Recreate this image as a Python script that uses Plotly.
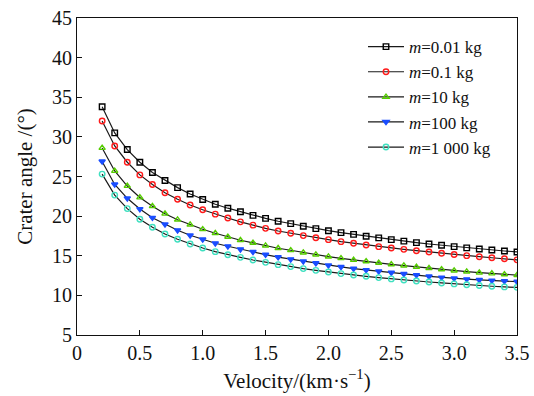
import plotly.graph_objects as go

velocity = [round(0.2 + 0.1 * i, 1) for i in range(34)]

m001 = [33.8, 30.5, 28.4, 26.8, 25.5, 24.5, 23.6, 22.8, 22.1, 21.5, 21.0, 20.55, 20.1,
        19.72, 19.35, 19.05, 18.72, 18.42, 18.16, 17.92, 17.7, 17.46, 17.25, 17.04,
        16.84, 16.66, 16.48, 16.32, 16.15, 16.0, 15.86, 15.73, 15.6, 15.48]
m01 = [32.0, 28.85, 26.8, 25.2, 24.0, 22.95, 22.12, 21.4, 20.8, 20.25, 19.76, 19.28, 18.86,
       18.46, 18.12, 17.83, 17.54, 17.28, 17.03, 16.78, 16.57, 16.36, 16.15, 15.98,
       15.81, 15.64, 15.47, 15.31, 15.15, 15.01, 14.88, 14.75, 14.62, 14.48]
m10 = [28.6, 25.7, 23.8, 22.35, 21.25, 20.3, 19.55, 18.92, 18.34, 17.84, 17.38, 16.96, 16.62,
       16.27, 15.95, 15.69, 15.4, 15.14, 14.89, 14.68, 14.47, 14.3, 14.1, 13.92,
       13.75, 13.58, 13.42, 13.28, 13.12, 12.99, 12.86, 12.76, 12.65, 12.56]
m100 = [26.9, 24.0, 22.25, 20.9, 19.8, 18.97, 18.22, 17.58, 17.07, 16.58, 16.2, 15.82, 15.49,
        15.14, 14.82, 14.56, 14.3, 14.06, 13.8, 13.59, 13.38, 13.2, 13.04, 12.87,
        12.71, 12.55, 12.4, 12.26, 12.14, 12.04, 11.95, 11.87, 11.8, 11.73]
m1000 = [25.3, 22.65, 20.95, 19.6, 18.6, 17.75, 17.08, 16.48, 15.98, 15.52, 15.13, 14.8, 14.46,
         14.17, 13.88, 13.63, 13.38, 13.16, 12.95, 12.75, 12.57, 12.41, 12.24, 12.08,
         11.94, 11.81, 11.69, 11.57, 11.45, 11.35, 11.24, 11.15, 11.07, 11.01]

names = ["<i>m</i>=0.01 kg", "<i>m</i>=0.1 kg", "<i>m</i>=10 kg", "<i>m</i>=100 kg", "<i>m</i>=1 000 kg"]
series = [m001, m01, m10, m100, m1000]
symbols = ["square-open", "circle-open", "triangle-up-open", "triangle-down", "circle-open"]
colors = ["#000000", "#ff1a1a", "#55cc00", "#1a4dff", "#3fe0c0"]

x_tickvals = [0, 0.5, 1.0, 1.5, 2.0, 2.5, 3.0, 3.5]
x_ticktext = ["0", "0.5", "1.0", "1.5", "2.0", "2.5", "3.0", "3.5"]
y_tickvals = [5, 10, 15, 20, 25, 30, 35, 40, 45]

fig = go.Figure()
for nm, ys, sym, col in zip(names, series, symbols, colors):
    fig.add_trace(go.Scatter(
        x=velocity, y=ys, name=nm, mode="lines+markers",
        line=dict(color="#1a1a1a", width=1.2),
        marker=dict(symbol=sym, size=5.5, color=col, line=dict(color=col, width=1.4)),
    ))

font_family = "Liberation Serif"
fig.update_layout(
    width=534, height=396,
    margin=dict(l=77, r=17, t=18, b=61, autoexpand=False),
    paper_bgcolor="white", plot_bgcolor="white",
    font=dict(family=font_family, size=20, color="#111111"),
    showlegend=True,
    legend=dict(x=0.65, y=0.965, xanchor="left", yanchor="top",
                bgcolor="rgba(0,0,0,0)", font=dict(size=17, family=font_family),
                tracegroupgap=0, itemwidth=36),
    xaxis=dict(range=[0, 3.5], tickvals=x_tickvals, ticktext=x_ticktext,
               ticks="inside", ticklen=5, tickwidth=1, tickcolor="#111",
               tickfont=dict(size=20), automargin=False,
               showline=True, linecolor="#111", linewidth=1.2, mirror=True,
               showgrid=False, zeroline=False,
               title=dict(text="Velocity/(km·s<sup>−1</sup>)", font=dict(size=21), standoff=10)),
    yaxis=dict(range=[5, 45], tickvals=y_tickvals,
               ticks="inside", ticklen=5, tickwidth=1, tickcolor="#111",
               tickfont=dict(size=20), automargin=False,
               showline=True, linecolor="#111", linewidth=1.2, mirror=True,
               showgrid=False, zeroline=False,
               title=dict(text="Crater angle /(°)", font=dict(size=21), standoff=13)),
)

fig.write_html("out.html")
